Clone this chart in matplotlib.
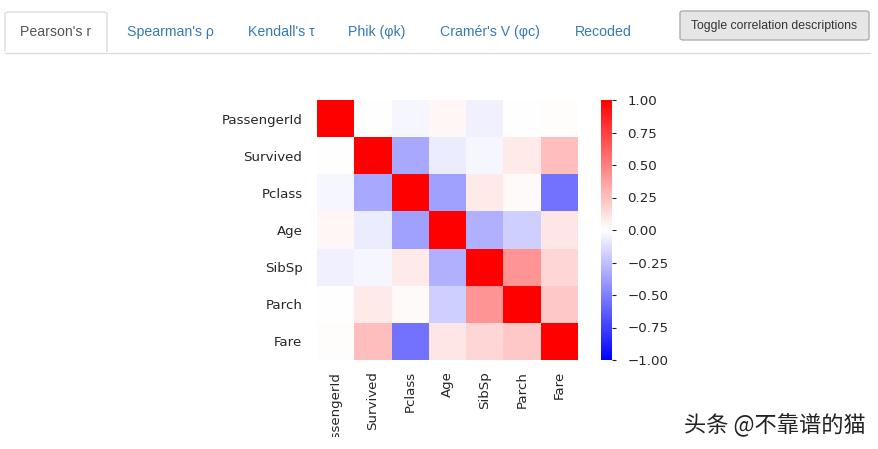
import numpy as np
import matplotlib.pyplot as plt
from matplotlib.patches import Rectangle, FancyBboxPatch
from matplotlib.transforms import Bbox

# correlation matrix (Pearson)
columns = ["PassengerId", "Survived", "Pclass", "Age", "SibSp", "Parch", "Fare"]
corr = np.array([
    [1.000, -0.005, -0.035, 0.037, -0.058, -0.002, 0.013],
    [-0.005, 1.000, -0.338, -0.077, -0.035, 0.082, 0.257],
    [-0.035, -0.338, 1.000, -0.369, 0.083, 0.018, -0.549],
    [0.037, -0.077, -0.369, 1.000, -0.308, -0.189, 0.096],
    [-0.058, -0.035, 0.083, -0.308, 1.000, 0.415, 0.160],
    [-0.002, 0.082, 0.018, -0.189, 0.415, 1.000, 0.216],
    [0.013, 0.257, -0.549, 0.096, 0.160, 0.216, 1.000],
])
tabs = ["Pearson's r", "Spearman's ρ", "Kendall's τ", "Phik (φk)", "Cramér's V (φc)", "Recoded"]
tab_x = [56, 170, 281, 377, 490, 603]
cbar_ticks = [1.0, 0.75, 0.5, 0.25, 0.0, -0.25, -0.5, -0.75, -1.0]

W, H = 879, 449
fig = plt.figure(figsize=(W / 100, H / 100), dpi=100)


def fx(px):
    return px / W


def fy(py):
    return 1 - py / H


# --- tab bar ---
ui = "Liberation Sans"
fig.add_artist(plt.Line2D([fx(5), fx(870)], [fy(52.5), fy(52.5)], color="#dddddd", lw=1))
tab_box = FancyBboxPatch((fx(5), fy(52.5)), fx(102), fy(12) - fy(52.5),
                         boxstyle="round,pad=0,rounding_size=0.004",
                         transform=fig.transFigure, facecolor="white",
                         edgecolor="#dddddd", lw=1)
fig.add_artist(tab_box)
fig.add_artist(Rectangle((fx(5.5), fy(54)), fx(101), fy(51) - fy(54),
                         transform=fig.transFigure, facecolor="white", edgecolor="none"))
for i, (t, x) in enumerate(zip(tabs, tab_x)):
    fig.text(fx(x), fy(32), t, ha="center", va="center", fontsize=10.2,
             family=ui, color="#555555" if i == 0 else "#337ab7")

# toggle button
btn = FancyBboxPatch((fx(680), fy(40)), fx(189), fy(11) - fy(40),
                     boxstyle="round,pad=0,rounding_size=0.004",
                     transform=fig.transFigure, facecolor="#e6e6e6",
                     edgecolor="#adadad", lw=1)
fig.add_artist(btn)
fig.text(fx(774.5), fy(25.5), "Toggle correlation descriptions", ha="center",
         va="center", fontsize=8.8, family=ui, color="#333333")

# --- heatmap ---
ax = fig.add_axes([fx(317), fy(360), fx(261), fy(100) - fy(360)])
n = len(columns)
mesh = ax.pcolormesh(corr, cmap="bwr", vmin=-1, vmax=1)
ax.set_xlim(0, n)
ax.set_ylim(n, 0)
ax.set_xticks(np.arange(n) + 0.5)
ax.set_yticks(np.arange(n) + 0.5)
ax.set_xticklabels(columns, rotation=90, fontsize=9.6, color="#262626")
ax.set_yticklabels(columns, fontsize=9.6, color="#262626")
ax.tick_params(axis="y", length=0, pad=10.5)
ax.tick_params(axis="x", length=0, pad=8)
for s in ax.spines.values():
    s.set_visible(False)

# colorbar
cax = fig.add_axes([fx(601), fy(360), fx(11), fy(100) - fy(360)])
cb = fig.colorbar(mesh, cax=cax, ticks=cbar_ticks)
cb.outline.set_visible(False)
cb.ax.set_yticklabels([f"{v:.2f}".replace("-", "\u2212") for v in cbar_ticks])
cax.tick_params(labelsize=9.6, length=3, width=0.8, colors="#262626", pad=8)

# the long x label is cut off at the page fold in the screenshot
fig.canvas.draw()
clip = Bbox.from_extents(0, H - 437, W, H)
for lab in ax.get_xticklabels():
    lab.set_clip_box(clip)
    lab.set_clip_on(True)

# watermark
fig.text(fx(775), fy(425), "头条 @不靠谱的猫", ha="center", va="center",
         fontsize=16, family=["Noto Sans CJK SC", "DejaVu Sans"], color="#222222")

fig.savefig("out.png", dpi=100)
